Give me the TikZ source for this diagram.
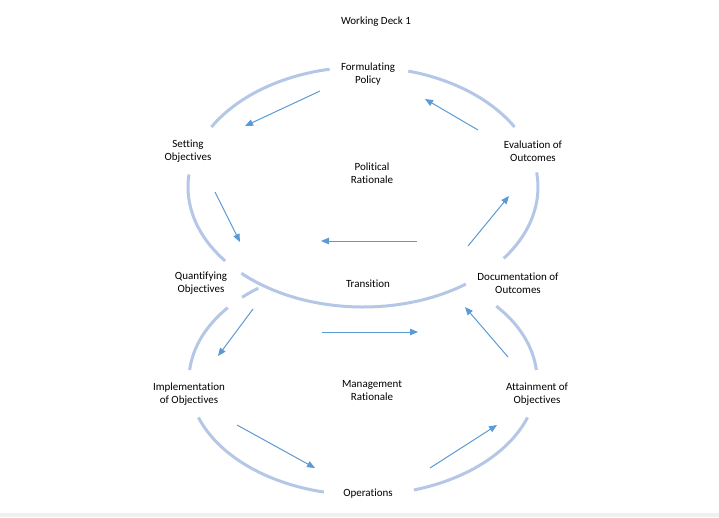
\documentclass[tikz,border=0pt]{standalone}
\usepackage{fontspec}
\setmainfont{Carlito}[Ligatures=NoCommon]
\usetikzlibrary{arrows.meta}
\definecolor{ringblue}{RGB}{180,199,231}
\definecolor{arrowblue}{RGB}{91,155,213}
\definecolor{stripgray}{RGB}{240,240,240}
\newcommand{\uparc}[2]{\draw[ring] (cU) ++(#1:175pt and 120pt) arc[start angle=#1,end angle=#2,x radius=175pt,y radius=120pt];}
\newcommand{\loarc}[2]{\draw[ring] (cL) ++(#1:174pt and 115pt) arc[start angle=#1,end angle=#2,x radius=174pt,y radius=115pt];}
\begin{document}
\begin{tikzpicture}[x=1pt,y=-1pt,
  ring/.style={draw=ringblue,line width=3pt},
  flow/.style={draw=arrowblue,line width=1pt,-{Triangle[length=8pt,width=6.5pt]}},
  lbl/.style={align=center,inner sep=0pt,text=black,font=\fontsize{11}{13}\selectfont}]
\useasboundingbox (0,0) rectangle (719,517);
\fill[white] (0,0) rectangle (719,517);
\fill[stripgray] (0,513) rectangle (719,517);
% ellipse centres
\coordinate (cU) at (363,187);
\coordinate (cL) at (363,380);
% upper ring
\uparc{30}{75}
\uparc{101}{150}
\uparc{174}{218}
\uparc{226}{306}
\uparc{323.5}{367}
% lower ring
\loarc{127}{134}
\loarc{141}{175}
\loarc{199}{257}
\loarc{287}{341}
\loarc{365}{400}
% labels
\node[lbl] (title) at (376,22) {Working Deck 1};
\node[lbl] (formulating) at (368,74) {Formulating\\Policy};
\node[lbl] (setting) at (188,151) {Setting\\Objectives};
\node[lbl] (evaluation) at (533,151) {Evaluation of\\Outcomes};
\node[lbl] (political) at (372,173) {Political\\Rationale};
\node[lbl] (quantifying) at (201,283) {Quantifying\\Objectives};
\node[lbl] (transition) at (368,283.5) {Transition};
\node[lbl] (documentation) at (518,283) {Documentation of\\Outcomes};
\node[lbl] (implementation) at (189,394) {Implementation\\of Objectives};
\node[lbl] (management) at (372,391) {Management\\Rationale};
\node[lbl] (attainment) at (537,394) {Attainment of\\Objectives};
\node[lbl] (operations) at (368,493.5) {Operations};
% arrow end points
\coordinate (a1s) at (320,91);  \coordinate (a1e) at (245,126);
\coordinate (a2s) at (478,130); \coordinate (a2e) at (425,99);
\coordinate (a3s) at (215,192); \coordinate (a3e) at (240,242);
\coordinate (a4s) at (417,241); \coordinate (a4e) at (321,241);
\coordinate (a5s) at (468,246); \coordinate (a5e) at (509,196);
\coordinate (a6s) at (253,309); \coordinate (a6e) at (218,356);
\coordinate (a7s) at (322,332); \coordinate (a7e) at (418,332);
\coordinate (a8s) at (508,357); \coordinate (a8e) at (465,307);
\coordinate (a9s) at (237,425); \coordinate (a9e) at (315,468);
\coordinate (a10s) at (430,468); \coordinate (a10e) at (497,425);
\draw[flow] (a1s) -- (a1e);
\draw[flow] (a2s) -- (a2e);
\draw[flow] (a3s) -- (a3e);
\draw[flow] (a4s) -- (a4e);
\draw[flow] (a5s) -- (a5e);
\draw[flow] (a6s) -- (a6e);
\draw[flow] (a7s) -- (a7e);
\draw[flow] (a8s) -- (a8e);
\draw[flow] (a9s) -- (a9e);
\draw[flow] (a10s) -- (a10e);
\end{tikzpicture}
\end{document}
